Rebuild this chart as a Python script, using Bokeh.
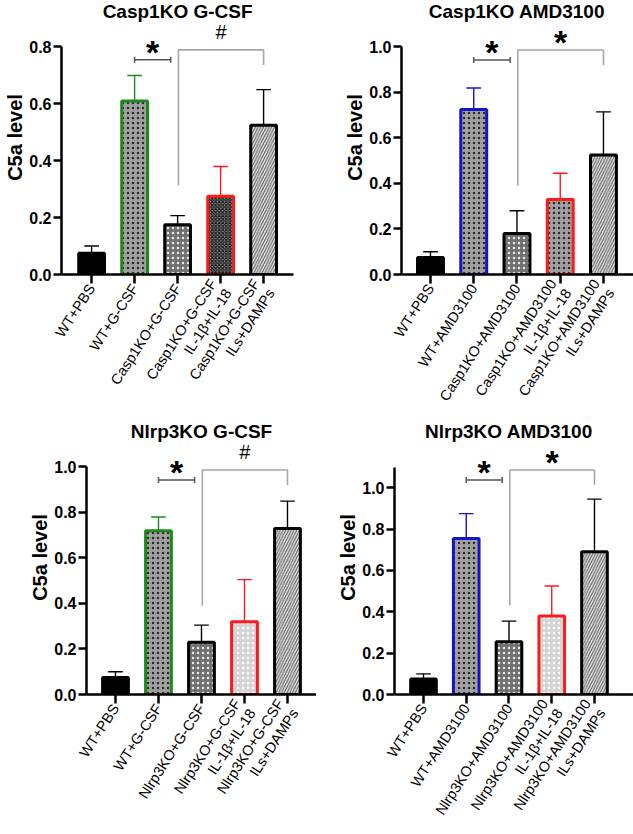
import math
from bokeh.plotting import figure
from bokeh.models import FixedTicker, Range1d
from bokeh.layouts import column, row
from bokeh.core.properties import value
from bokeh.embed import file_html
from bokeh.resources import INLINE

FONT = "Liberation Sans"

# ---------------- data ----------------
casp_gcsf_groups = ["WT+PBS", "WT+G-CSF", "Casp1KO+G-CSF",
                    "Casp1KO+G-CSF\nIL-1β+IL-18", "Casp1KO+G-CSF\nILs+DAMPs"]
casp_gcsf_mean = [0.075, 0.61, 0.175, 0.275, 0.525]
casp_gcsf_sem = [0.025, 0.09, 0.032, 0.105, 0.125]

casp_amd_groups = ["WT+PBS", "WT+AMD3100", "Casp1KO+AMD3100",
                   "Casp1KO+AMD3100\nIL-1β+IL-18", "Casp1KO+AMD3100\nILs+DAMPs"]
casp_amd_mean = [0.075, 0.725, 0.18, 0.33, 0.525]
casp_amd_sem = [0.025, 0.095, 0.10, 0.115, 0.19]

nlrp_gcsf_groups = ["WT+PBS", "WT+G-CSF", "Nlrp3KO+G-CSF",
                    "Nlrp3KO+G-CSF\nIL-1β+IL-18", "Nlrp3KO+G-CSF\nILs+DAMPs"]
nlrp_gcsf_mean = [0.075, 0.72, 0.23, 0.32, 0.73]
nlrp_gcsf_sem = [0.025, 0.06, 0.075, 0.185, 0.12]

nlrp_amd_groups = ["WT+PBS", "WT+AMD3100", "Nlrp3KO+AMD3100",
                   "Nlrp3KO+AMD3100\nIL-1β+IL-18", "Nlrp3KO+AMD3100\nILs+DAMPs"]
nlrp_amd_mean = [0.075, 0.755, 0.255, 0.38, 0.69]
nlrp_amd_sem = [0.025, 0.12, 0.10, 0.145, 0.255]

panel_titles = ["Casp1KO G-CSF", "Casp1KO AMD3100", "Nlrp3KO G-CSF", "Nlrp3KO AMD3100"]
y_axis_label = "C5a level"
y_ticks_08 = [0.0, 0.2, 0.4, 0.6, 0.8]
y_ticks_10 = [0.0, 0.2, 0.4, 0.6, 0.8, 1.0]
y_axis_tops = [0.8, 1.0, 1.0, 1.1]

# significance: short bracket (WT vs KO) and long bracket (KO vs KO+ILs+DAMPs)
sig_short_level = [0.755, 0.943, 0.943, 1.038]
sig_long_level = [0.79, 0.987, 0.987, 1.086]
sig_long_left_end = [0.313, 0.39, 0.39, 0.43]
sig_long_right_end = [0.737, 0.92, 0.92, 1.014]
sig_short_symbol = ["*", "*", "*", "*"]
sig_long_symbol = ["#", "*", "#", "*"]

# ---------------- styles ----------------
GREEN = "#1e8a1e"
RED = "#ff1a1a"
BLUE = "#1414c8"
BLACK = "#000000"

S_SOLID = dict(fill_color="black", line_color=BLACK)
def dots_dark(border):
    return dict(fill_color="#a0a0a0", line_color=border, hatch_pattern="dot",
                hatch_color="#2a2a2a", hatch_scale=5, hatch_weight=1.0)
S_KO = dict(fill_color="#707070", line_color=BLACK, hatch_pattern="dot",
            hatch_color="#e8e8e8", hatch_scale=5, hatch_weight=1.0)
S_CHECK = dict(fill_color="#8c8c8c", line_color=RED, hatch_pattern="diagonal_cross",
               hatch_color="#151515", hatch_scale=3.5, hatch_weight=1.1)
S_LIGHTDOT = dict(fill_color="#d4d4d4", line_color=RED, hatch_pattern="dot",
                  hatch_color="#ffffff", hatch_scale=5, hatch_weight=1.0)
S_DIAG = dict(fill_color="#e2e2e2", line_color=BLACK, hatch_pattern="right_diagonal_line",
              hatch_color="#555555", hatch_scale=5.5, hatch_weight=1.0)

panel_styles = [
    [S_SOLID, dots_dark(GREEN), S_KO, S_CHECK, S_DIAG],
    [S_SOLID, dots_dark(BLUE), S_KO, dots_dark(RED), S_DIAG],
    [S_SOLID, dots_dark(GREEN), S_KO, S_LIGHTDOT, S_DIAG],
    [S_SOLID, dots_dark(BLUE), S_KO, S_LIGHTDOT, S_DIAG],
]

# layout of each panel (pixels)
panel_layouts = [
    dict(W=316, H=420, left=61, right=23, ppc=43.0, x0=-0.70, bottom=143, ppu=287.5),
    dict(W=317, H=420, left=85, right=0, ppc=43.25, x0=-0.67, bottom=143, ppu=230.0),
    dict(W=316, H=414, left=86, right=0, ppc=43.0, x0=-0.674, bottom=137, ppu=230.0),
    dict(W=317, H=414, left=78, right=0, ppc=42.75, x0=-0.678, bottom=137, ppu=209.0),
]


def make_panel(k, groups, mean, sem, yticks):
    L = panel_layouts[k]
    fw = L["W"] - L["left"] - L["right"]
    fh = L["H"] - L["bottom"]
    x1 = L["x0"] + fw / L["ppc"]
    y1 = fh / L["ppu"]
    p = figure(width=L["W"], height=L["H"], output_backend="svg", toolbar_location=None,
               x_range=Range1d(L["x0"], x1), y_range=Range1d(0, y1),
               min_border_left=L["left"], min_border_right=L["right"],
               min_border_top=0, min_border_bottom=L["bottom"])
    p.title.visible = False
    p.outline_line_color = None
    p.xgrid.visible = False
    p.ygrid.visible = False
    p.background_fill_color = "white"
    p.border_fill_color = "white"

    idx = list(range(len(groups)))
    tops = [m + s for m, s in zip(mean, sem)]
    styles = panel_styles[k]
    err_colors = [s["line_color"] for s in styles]

    # error bars (upper only)
    p.segment(x0=idx, y0=mean, x1=idx, y1=tops, line_color=err_colors, line_width=1.4)
    p.segment(x0=[i - 0.17 for i in idx], y0=tops, x1=[i + 0.17 for i in idx], y1=tops,
              line_color=err_colors, line_width=1.4)

    # bars
    for i in idx:
        p.vbar(x=[i], top=[mean[i]], bottom=0, width=0.6, line_width=3, **styles[i])

    # significance brackets
    cap = 3.0 / L["ppu"]
    xs0, xs1 = 1.0, 2.0 - 0.16
    p.segment(x0=[xs0], y0=[sig_short_level[k]], x1=[xs1], y1=[sig_short_level[k]],
              line_color="#555555", line_width=1.5)
    p.segment(x0=[xs0, xs1], y0=[sig_short_level[k] - cap] * 2, x1=[xs0, xs1],
              y1=[sig_short_level[k] + cap] * 2, line_color="#555555", line_width=1.5)
    xl0, xl1 = 2.02, 4.0
    p.line(x=[xl0, xl0, xl1, xl1],
           y=[sig_long_left_end[k], sig_long_level[k], sig_long_level[k], sig_long_right_end[k]],
           line_color="#a8a8a8", line_width=1.6)

    for sym, xc, yc in [(sig_short_symbol[k], (xs0 + xs1) / 2, sig_short_level[k]),
                        (sig_long_symbol[k], (xl0 + xl1) / 2, sig_long_level[k])]:
        if sym == "*":
            p.text(x=[xc], y=[yc], text=[sym], text_font=value(FONT), text_font_size="34px",
                   text_font_style="bold", text_align="center", text_baseline="middle",
                   y_offset=-8, text_color="black")
        else:
            p.text(x=[xc], y=[yc], text=[sym], text_font=value(FONT), text_font_size="20px",
                   text_align="center", text_baseline="middle", y_offset=-18,
                   text_color="black")

    # title (centered on middle group)
    p.text(x=[2], y=[y1], text=[panel_titles[k]], text_font=value(FONT), text_font_size="19px",
           text_font_style="bold", text_align="center", text_baseline="top", text_color="black")

    # axes
    xa = p.xaxis[0]
    xa.ticker = FixedTicker(ticks=idx)
    xa.major_label_overrides = {i: g for i, g in zip(idx, groups)}
    xa.major_label_orientation = math.radians(57)
    xa.major_label_text_font = FONT
    xa.major_label_text_font_size = "14.5px"
    xa.major_label_text_line_height = 1.1
    xa.major_label_text_color = "black"
    xa.major_label_standoff = 2
    xa.axis_line_width = 2.5
    xa.major_tick_line_width = 2.5
    xa.major_tick_out = 9
    xa.major_tick_in = 0
    xa.minor_tick_line_color = None

    ya = p.yaxis[0]
    ya.ticker = FixedTicker(ticks=yticks)
    ya.major_label_overrides = {t: f"{t:.1f}" for t in yticks}
    ya.bounds = (0, y_axis_tops[k])
    ya.major_label_text_font = FONT
    ya.major_label_text_font_size = "16px"
    ya.major_label_text_font_style = "bold"
    ya.major_label_text_color = "black"
    ya.major_label_standoff = 2
    ya.axis_line_width = 2.5
    ya.major_tick_line_width = 2.5
    ya.major_tick_out = 8
    ya.major_tick_in = 0
    ya.minor_tick_line_color = None
    ya.axis_label = y_axis_label
    ya.axis_label_text_font = FONT
    ya.axis_label_text_font_size = "20px"
    ya.axis_label_text_font_style = "bold"
    ya.axis_label_text_color = "black"
    ya.axis_label_standoff = 0
    return p


p1 = make_panel(0, casp_gcsf_groups, casp_gcsf_mean, casp_gcsf_sem, y_ticks_08)
p2 = make_panel(1, casp_amd_groups, casp_amd_mean, casp_amd_sem, y_ticks_10)
p3 = make_panel(2, nlrp_gcsf_groups, nlrp_gcsf_mean, nlrp_gcsf_sem, y_ticks_10)
p4 = make_panel(3, nlrp_amd_groups, nlrp_amd_mean, nlrp_amd_sem, y_ticks_10)

layout = column(row(p1, p2), row(p3, p4))
open("out.html", "w").write(file_html(layout, INLINE))
